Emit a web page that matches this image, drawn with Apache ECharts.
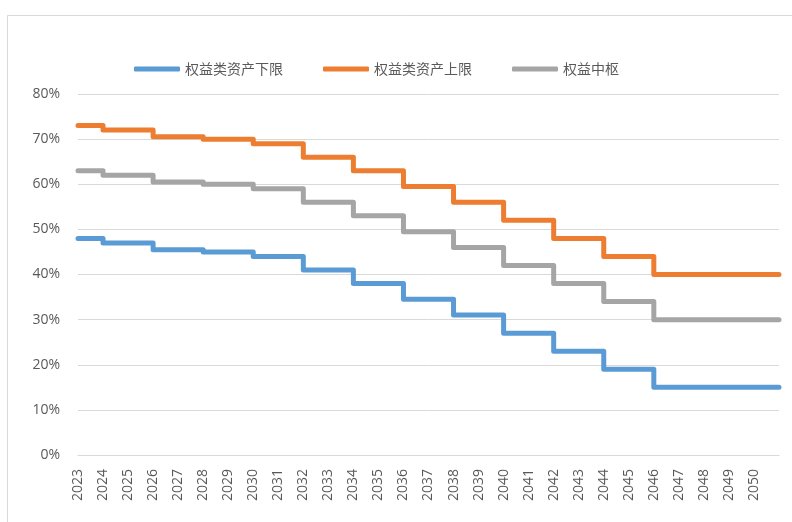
<!DOCTYPE html>
<html>
<head>
<meta charset="utf-8">
<script src="https://cdn.jsdelivr.net/npm/echarts@6/dist/echarts.min.js"></script>
<style>
html,body{margin:0;padding:0;background:#fff;}
#chart{width:792px;height:522px;}
</style>
</head>
<body>
<div id="chart"></div>
<script>
// Data (values in %)
var years = [2023,2024,2025,2026,2027,2028,2029,2030,2031,2032,2033,2034,2035,2036,2037,2038,2039,2040,2041,2042,2043,2044,2045,2046,2047,2048,2049,2050];
var lowerBound = [48,47,47,45.5,45.5,45,45,44,44,41,41,38,38,34.5,34.5,31,31,27,27,23,23,19,19,15,15,15,15,15];
var upperBound = [73,72,72,70.5,70.5,70,70,69,69,66,66,63,63,59.5,59.5,56,56,52,52,48,48,44,44,40,40,40,40,40];
var centralLevel = [63,62,62,60.5,60.5,60,60,59,59,56,56,53,53,49.5,49.5,46,46,42,42,38,38,34,34,30,30,30,30,30];
var seriesNames = ['权益类资产下限','权益类资产上限','权益中枢'];
var yTicks = [0,10,20,30,40,50,60,70,80];

function build(vals){
  var d = years.map(function(y,i){ return [y, vals[i]]; });
  // each year's value holds until the start of the next year
  d.push([years[years.length-1] + 1, vals[vals.length-1]]);
  return d;
}

var colors = ['#5B9BD5','#ED7D31','#A5A5A5'];
var chart = echarts.init(document.getElementById('chart'), null, {renderer:'canvas'});
var lineStyleBase = {width:5, cap:'round', join:'round'};
chart.setOption({
  animation:false,
  color: colors,
  graphic:[{
    type:'rect', silent:true,
    shape:{x:7.5, y:15.5, width:800, height:600},
    style:{fill:'none', stroke:'#d9d9d9', lineWidth:1}
  }],
  legend:{
    left:129, top:57,
    itemWidth:46, itemHeight:5, itemGap:40,
    icon:'roundRect',
    textStyle:{fontFamily:'Noto Sans CJK SC', fontSize:14, color:'#595959'},
    data: seriesNames
  },
  grid:{left:78, right:13, top:94, bottom:67, containLabel:false},
  xAxis:{
    type:'value', min:years[0], max:years[years.length-1]+1, interval:1,
    axisLine:{show:true, lineStyle:{color:'#d9d9d9'}},
    axisTick:{show:false},
    splitLine:{show:false},
    axisLabel:{
      rotate:90, margin:14, color:'#595959', fontFamily:'Open Sans', fontSize:14,
      showMaxLabel:false,
      formatter:function(v){ return years.indexOf(v) >= 0 ? String(v) : ''; }
    }
  },
  yAxis:{
    type:'value', min:yTicks[0], max:yTicks[yTicks.length-1], interval:10,
    axisLine:{show:false}, axisTick:{show:false},
    splitLine:{lineStyle:{color:'#d9d9d9', width:1}},
    axisLabel:{formatter:'{value}%', margin:18, color:'#595959', fontFamily:'Open Sans', fontSize:14}
  },
  series:[
    {name:seriesNames[0], type:'line', step:'end', showSymbol:false, data:build(lowerBound), lineStyle:Object.assign({color:colors[0]}, lineStyleBase)},
    {name:seriesNames[1], type:'line', step:'end', showSymbol:false, data:build(upperBound), lineStyle:Object.assign({color:colors[1]}, lineStyleBase)},
    {name:seriesNames[2], type:'line', step:'end', showSymbol:false, data:build(centralLevel), lineStyle:Object.assign({color:colors[2]}, lineStyleBase)}
  ]
});
</script>
</body>
</html>
